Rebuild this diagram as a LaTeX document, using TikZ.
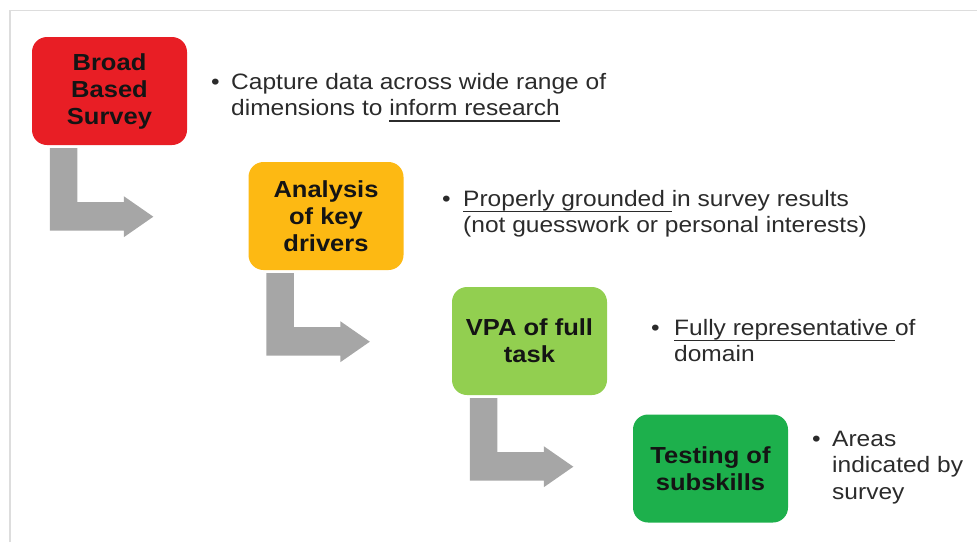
\documentclass[tikz,border=0pt]{standalone}
\usepackage{fontspec}
\setmainfont{Liberation Sans}[FakeStretch=1.1]

\definecolor{stagered}{HTML}{E81E25}
\definecolor{stageorange}{HTML}{FDB913}
\definecolor{stagelime}{HTML}{92CF50}
\definecolor{stagegreen}{HTML}{1DB04C}
\definecolor{arrowgray}{HTML}{A6A6A6}
\definecolor{notegray}{HTML}{2B2B2B}
\definecolor{framegray}{HTML}{DDDDDD}

% underline drawn a fixed distance below the baseline
\newcommand\ulin[1]{\setbox0\hbox{#1}\rlap{\vrule height -4.6pt depth 6pt width \wd0}\box0}

% bent grey arrow hanging below the lower-left corner of a stage box
\newcommand\bendarrow[1]{%
  \fill[bentarrow, shift={(#1.south west)}]
    (18,3) -- (45.5,3) -- (45.5,57) -- (92,57) -- (92,51) -- (121.5,71.5)
    -- (92,92) -- (92,85.5) -- (18,85.5) -- cycle;}

\tikzset{
  stage/.style={rounded corners=15pt, minimum width=155pt, minimum height=108pt,
    inner sep=0pt, align=center, text=black!92,
    font=\fontsize{23.2}{27}\selectfont\bfseries},
  note/.style={anchor=base west, inner sep=0pt, text=notegray,
    font=\fontsize{22.3}{26.5}\selectfont},
  bentarrow/.style={fill=arrowgray},
  frameline/.style={draw=framegray, line width=1.3pt}
}

\begin{document}
\begin{tikzpicture}[x=1pt, y=-1pt]
  \useasboundingbox (0,0) rectangle (977,542);

  % thin frame along the top and left edges
  \draw[frameline] (10,542) -- (10,10.5) -- (977,10.5);

  % stage boxes
  \node[stage, fill=stagered]    (b1) at (109.5,91)  {Broad\\Based\\Survey};
  \node[stage, fill=stageorange] (b2) at (326,216)   {Analysis\\of key\\drivers};
  \node[stage, fill=stagelime]   (b3) at (529.5,341) {VPA of full\\task};
  \node[stage, fill=stagegreen]  (b4) at (710.5,468.5) {Testing of\\subskills};

  % bent arrows between stages
  \bendarrow{b1}
  \bendarrow{b2}
  \bendarrow{b3}

  % bullet notes
  \node[note] (n1) at (211,89) {\begin{tabular}[t]{@{}p{20pt}@{}l@{}}
      •&Capture data across wide range of\\
       &dimensions to \ulin{inform research}\end{tabular}};
  \node[note] (n2) at (442,206) {\begin{tabular}[t]{@{}p{21pt}@{}l@{}}
      •&\ulin{Properly grounded }in survey results\\
       &(not guesswork or personal interests)\end{tabular}};
  \node[note] (n3) at (651,335) {\begin{tabular}[t]{@{}p{23pt}@{}l@{}}
      •&\ulin{Fully representative }of\\
       &domain\end{tabular}};
  \node[note] (n4) at (812,446) {\begin{tabular}[t]{@{}p{20pt}@{}l@{}}
      •&Areas\\
       &indicated by\\
       &survey\end{tabular}};
\end{tikzpicture}
\end{document}
